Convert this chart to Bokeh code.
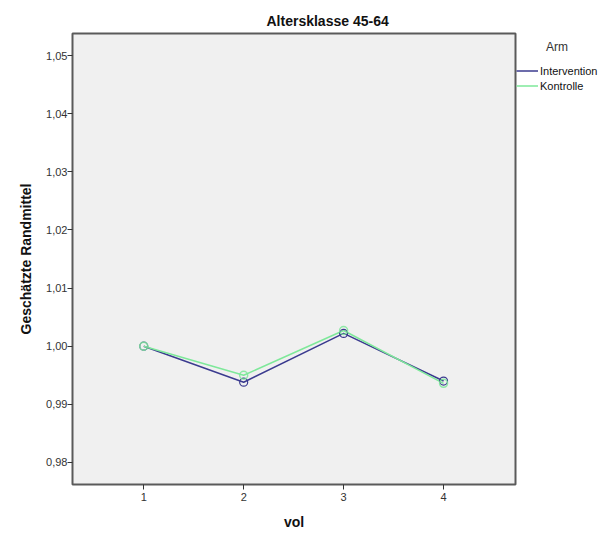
from bokeh.plotting import figure
from bokeh.models import (Range1d, FixedTicker, CustomJSTickFormatter, Legend,
                          LegendItem, ColumnDataSource)
from bokeh.embed import file_html
from bokeh.resources import INLINE

# ---- data ----
vol = [1, 2, 3, 4]
intervention = [1.0000, 0.9938, 1.0022, 0.9940]
kontrolle = [1.0000, 0.9950, 1.0027, 0.9936]
y_ticks = [0.98, 0.99, 1.00, 1.01, 1.02, 1.03, 1.04, 1.05]
x_ticks = [1, 2, 3, 4]
series_names = ["Intervention", "Kontrolle"]
legend_title = "Arm"

FONT = "Liberation Sans"
BLUE = "#3b3b8f"
GREEN = "#7ee89a"

p = figure(frame_width=443, frame_height=451,
           min_border_left=72, min_border_top=33, min_border_right=99,
           min_border_bottom=52,
           x_range=Range1d(0.287, 4.72), y_range=Range1d(0.9762, 1.0538),
           output_backend="svg", toolbar_location=None,
           background_fill_color="#f0f0f0", border_fill_color="white")

p.title.text = "Altersklasse 45-64"
p.title.align = "left"
p.title.offset = 194
p.title.text_font = FONT
p.title.text_font_size = "14px"
p.title.text_font_style = "bold"
p.title.text_color = "#111111"
p.title.standoff = 9

p.outline_line_color = "#5a5a5a"
p.outline_line_width = 2
p.grid.visible = False

for ax in (p.xaxis[0], p.yaxis[0]):
    ax.axis_line_color = None
    ax.major_tick_out = 5
    ax.major_tick_in = 0
    ax.minor_tick_out = 0
    ax.minor_tick_in = 0
    ax.major_tick_line_color = "#333333"
    ax.major_label_text_font = FONT
    ax.major_label_text_font_size = "11px"
    ax.major_label_text_color = "#333333"
    ax.axis_label_text_font = FONT
    ax.axis_label_text_font_style = "bold"
    ax.axis_label_text_color = "#111111"

p.xaxis.ticker = FixedTicker(ticks=x_ticks)
p.xaxis.axis_label = "vol"
p.xaxis.axis_label_text_font_size = "14px"
p.xaxis.major_label_standoff = 3
p.xaxis.axis_label_standoff = 10

p.yaxis.ticker = FixedTicker(ticks=y_ticks)
p.yaxis.formatter = CustomJSTickFormatter(code="return tick.toFixed(2).replace('.', ',');")
p.yaxis.axis_label = "Geschätzte Randmittel"
p.yaxis.axis_label_text_font_size = "14px"
p.yaxis.major_label_standoff = 0
p.yaxis.axis_label_standoff = 9

src = ColumnDataSource(dict(vol=vol, intervention=intervention, kontrolle=kontrolle))

l1 = p.line("vol", "intervention", source=src, line_color=BLUE, line_width=1.5)
l2 = p.line("vol", "kontrolle", source=src, line_color=GREEN, line_width=1.5)
p.scatter("vol", "intervention", source=src, marker="circle", size=8,
          fill_color=None, line_color=BLUE, line_width=1.2)
p.scatter("vol", "kontrolle", source=src, marker="circle", size=8,
          fill_color=None, line_color=GREEN, line_width=1.5, line_alpha=0.85)

legend = Legend(items=[LegendItem(label=series_names[0], renderers=[l1]),
                       LegendItem(label=series_names[1], renderers=[l2])],
                title="\u00a0" * 9 + legend_title,
                title_text_font=FONT, title_text_font_size="12px",
                title_text_font_style="normal", title_text_color="#333333",
                title_standoff=9,
                location=(1, 391), padding=0, margin=0, spacing=0,
                glyph_width=22, glyph_height=15, label_height=15,
                label_standoff=2, label_text_font=FONT,
                label_text_font_size="11px", label_text_color="#111111",
                background_fill_alpha=0, border_line_color=None)
p.add_layout(legend, "right")

open("out.html", "w").write(file_html(p, INLINE))
